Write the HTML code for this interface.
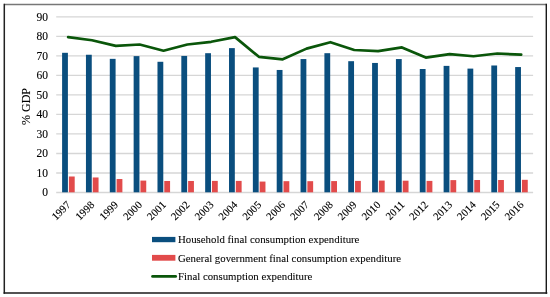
<!DOCTYPE html>
<html><head><meta charset="utf-8"><style>
html,body{margin:0;padding:0;background:#fff;}
body{width:550px;height:297px;overflow:hidden;}
svg{display:block;will-change:transform;font-family:"Liberation Serif",serif;}
text{fill:#000;stroke:#000;stroke-width:0.12px;} .lg{stroke-width:0.08px;} .xl{stroke-width:0.1px;}
</style></head><body>
<svg width="550" height="297" viewBox="0 0 550 297">
<line x1="56.2" y1="192.50" x2="533.1" y2="192.50" stroke="#d6d6d6" stroke-width="1.3"/>
<text x="48.1" y="196.20" text-anchor="end" font-size="11.5">0</text>
<line x1="56.2" y1="172.99" x2="533.1" y2="172.99" stroke="#d6d6d6" stroke-width="1.3"/>
<text x="48.1" y="176.69" text-anchor="end" font-size="11.5">10</text>
<line x1="56.2" y1="153.48" x2="533.1" y2="153.48" stroke="#d6d6d6" stroke-width="1.3"/>
<text x="48.1" y="157.18" text-anchor="end" font-size="11.5">20</text>
<line x1="56.2" y1="133.97" x2="533.1" y2="133.97" stroke="#d6d6d6" stroke-width="1.3"/>
<text x="48.1" y="137.67" text-anchor="end" font-size="11.5">30</text>
<line x1="56.2" y1="114.46" x2="533.1" y2="114.46" stroke="#d6d6d6" stroke-width="1.3"/>
<text x="48.1" y="118.16" text-anchor="end" font-size="11.5">40</text>
<line x1="56.2" y1="94.95" x2="533.1" y2="94.95" stroke="#d6d6d6" stroke-width="1.3"/>
<text x="48.1" y="98.65" text-anchor="end" font-size="11.5">50</text>
<line x1="56.2" y1="75.44" x2="533.1" y2="75.44" stroke="#d6d6d6" stroke-width="1.3"/>
<text x="48.1" y="79.14" text-anchor="end" font-size="11.5">60</text>
<line x1="56.2" y1="55.93" x2="533.1" y2="55.93" stroke="#d6d6d6" stroke-width="1.3"/>
<text x="48.1" y="59.63" text-anchor="end" font-size="11.5">70</text>
<line x1="56.2" y1="36.42" x2="533.1" y2="36.42" stroke="#d6d6d6" stroke-width="1.3"/>
<text x="48.1" y="40.12" text-anchor="end" font-size="11.5">80</text>
<line x1="56.2" y1="16.91" x2="533.1" y2="16.91" stroke="#d6d6d6" stroke-width="1.3"/>
<text x="48.1" y="20.61" text-anchor="end" font-size="11.5">90</text>
<rect x="62.10" y="52.80" width="5.8" height="139.50" fill="#0a4e7e"/>
<rect x="68.90" y="176.50" width="5.8" height="15.80" fill="#e24b4b"/>
<rect x="85.95" y="54.75" width="5.8" height="137.55" fill="#0a4e7e"/>
<rect x="92.75" y="177.47" width="5.8" height="14.83" fill="#e24b4b"/>
<rect x="109.79" y="58.85" width="5.8" height="133.45" fill="#0a4e7e"/>
<rect x="116.59" y="179.03" width="5.8" height="13.27" fill="#e24b4b"/>
<rect x="133.64" y="56.12" width="5.8" height="136.18" fill="#0a4e7e"/>
<rect x="140.44" y="180.59" width="5.8" height="11.71" fill="#e24b4b"/>
<rect x="157.48" y="61.78" width="5.8" height="130.52" fill="#0a4e7e"/>
<rect x="164.28" y="180.98" width="5.8" height="11.32" fill="#e24b4b"/>
<rect x="181.33" y="55.93" width="5.8" height="136.37" fill="#0a4e7e"/>
<rect x="188.12" y="180.98" width="5.8" height="11.32" fill="#e24b4b"/>
<rect x="205.17" y="53.19" width="5.8" height="139.11" fill="#0a4e7e"/>
<rect x="211.97" y="180.89" width="5.8" height="11.41" fill="#e24b4b"/>
<rect x="229.02" y="48.12" width="5.8" height="144.18" fill="#0a4e7e"/>
<rect x="235.82" y="180.89" width="5.8" height="11.41" fill="#e24b4b"/>
<rect x="252.86" y="67.44" width="5.8" height="124.86" fill="#0a4e7e"/>
<rect x="259.66" y="181.57" width="5.8" height="10.73" fill="#e24b4b"/>
<rect x="276.71" y="69.97" width="5.8" height="122.33" fill="#0a4e7e"/>
<rect x="283.50" y="181.18" width="5.8" height="11.12" fill="#e24b4b"/>
<rect x="300.55" y="59.05" width="5.8" height="133.25" fill="#0a4e7e"/>
<rect x="307.35" y="181.18" width="5.8" height="11.12" fill="#e24b4b"/>
<rect x="324.40" y="53.19" width="5.8" height="139.11" fill="#0a4e7e"/>
<rect x="331.20" y="181.08" width="5.8" height="11.22" fill="#e24b4b"/>
<rect x="348.24" y="61.19" width="5.8" height="131.11" fill="#0a4e7e"/>
<rect x="355.04" y="180.89" width="5.8" height="11.41" fill="#e24b4b"/>
<rect x="372.09" y="62.95" width="5.8" height="129.35" fill="#0a4e7e"/>
<rect x="378.88" y="180.59" width="5.8" height="11.71" fill="#e24b4b"/>
<rect x="395.93" y="59.05" width="5.8" height="133.25" fill="#0a4e7e"/>
<rect x="402.73" y="180.69" width="5.8" height="11.61" fill="#e24b4b"/>
<rect x="419.78" y="69.00" width="5.8" height="123.30" fill="#0a4e7e"/>
<rect x="426.58" y="180.89" width="5.8" height="11.41" fill="#e24b4b"/>
<rect x="443.62" y="65.88" width="5.8" height="126.42" fill="#0a4e7e"/>
<rect x="450.42" y="180.11" width="5.8" height="12.19" fill="#e24b4b"/>
<rect x="467.47" y="68.61" width="5.8" height="123.69" fill="#0a4e7e"/>
<rect x="474.27" y="180.01" width="5.8" height="12.29" fill="#e24b4b"/>
<rect x="491.31" y="65.49" width="5.8" height="126.81" fill="#0a4e7e"/>
<rect x="498.11" y="180.01" width="5.8" height="12.29" fill="#e24b4b"/>
<rect x="515.16" y="67.05" width="5.8" height="125.25" fill="#0a4e7e"/>
<rect x="521.96" y="179.81" width="5.8" height="12.49" fill="#e24b4b"/>
<polyline points="68.12,37.11 91.97,40.23 115.81,45.89 139.66,44.52 163.50,50.77 187.35,44.52 211.19,41.79 235.04,37.11 258.88,56.82 282.73,59.35 306.57,48.62 330.42,42.18 354.26,49.99 378.11,51.16 401.95,47.45 425.80,57.60 449.64,54.08 473.49,56.23 497.33,53.50 521.18,54.67" fill="none" stroke="#0a560a" stroke-width="2.7" stroke-linejoin="round" stroke-linecap="round"/>
<text class="xl" x="71.22" y="205.50" text-anchor="end" font-size="10.8" transform="rotate(-45 71.22 205.50)">1997</text>
<text class="xl" x="95.07" y="205.50" text-anchor="end" font-size="10.8" transform="rotate(-45 95.07 205.50)">1998</text>
<text class="xl" x="118.91" y="205.50" text-anchor="end" font-size="10.8" transform="rotate(-45 118.91 205.50)">1999</text>
<text class="xl" x="142.76" y="205.50" text-anchor="end" font-size="10.8" transform="rotate(-45 142.76 205.50)">2000</text>
<text class="xl" x="166.60" y="205.50" text-anchor="end" font-size="10.8" transform="rotate(-45 166.60 205.50)">2001</text>
<text class="xl" x="190.45" y="205.50" text-anchor="end" font-size="10.8" transform="rotate(-45 190.45 205.50)">2002</text>
<text class="xl" x="214.29" y="205.50" text-anchor="end" font-size="10.8" transform="rotate(-45 214.29 205.50)">2003</text>
<text class="xl" x="238.14" y="205.50" text-anchor="end" font-size="10.8" transform="rotate(-45 238.14 205.50)">2004</text>
<text class="xl" x="261.98" y="205.50" text-anchor="end" font-size="10.8" transform="rotate(-45 261.98 205.50)">2005</text>
<text class="xl" x="285.83" y="205.50" text-anchor="end" font-size="10.8" transform="rotate(-45 285.83 205.50)">2006</text>
<text class="xl" x="309.67" y="205.50" text-anchor="end" font-size="10.8" transform="rotate(-45 309.67 205.50)">2007</text>
<text class="xl" x="333.52" y="205.50" text-anchor="end" font-size="10.8" transform="rotate(-45 333.52 205.50)">2008</text>
<text class="xl" x="357.36" y="205.50" text-anchor="end" font-size="10.8" transform="rotate(-45 357.36 205.50)">2009</text>
<text class="xl" x="381.21" y="205.50" text-anchor="end" font-size="10.8" transform="rotate(-45 381.21 205.50)">2010</text>
<text class="xl" x="405.05" y="205.50" text-anchor="end" font-size="10.8" transform="rotate(-45 405.05 205.50)">2011</text>
<text class="xl" x="428.90" y="205.50" text-anchor="end" font-size="10.8" transform="rotate(-45 428.90 205.50)">2012</text>
<text class="xl" x="452.74" y="205.50" text-anchor="end" font-size="10.8" transform="rotate(-45 452.74 205.50)">2013</text>
<text class="xl" x="476.59" y="205.50" text-anchor="end" font-size="10.8" transform="rotate(-45 476.59 205.50)">2014</text>
<text class="xl" x="500.43" y="205.50" text-anchor="end" font-size="10.8" transform="rotate(-45 500.43 205.50)">2015</text>
<text class="xl" x="524.28" y="205.50" text-anchor="end" font-size="10.8" transform="rotate(-45 524.28 205.50)">2016</text>
<text x="0" y="0" text-anchor="middle" font-size="12" transform="translate(29.5 106.5) rotate(-90)">% GDP</text>
<rect x="152" y="236.9" width="23.4" height="5.3" fill="#0a4e7e"/>
<rect x="152" y="254.9" width="23.4" height="5.8" fill="#e24b4b"/>
<line x1="152.6" y1="276.4" x2="175.6" y2="276.4" stroke="#0a560a" stroke-width="2.9" stroke-linecap="round"/>
<text class="lg" x="178.0" y="243.3" font-size="10.8">Household final consumption expenditure</text>
<text class="lg" x="178.0" y="261.7" font-size="10.8">General government final consumption expenditure</text>
<text class="lg" x="178.0" y="280.1" font-size="10.8">Final consumption expenditure</text>
<line x1="4.3" y1="4.5" x2="546.6" y2="4.5" stroke="#777" stroke-width="1.4"/>
<line x1="4.3" y1="3.8" x2="4.3" y2="293.7" stroke="#222" stroke-width="1.5"/>
<line x1="546.3" y1="3.8" x2="546.3" y2="293.7" stroke="#1a1a1a" stroke-width="1.4"/>
<line x1="3.6" y1="292.95" x2="547.3" y2="292.95" stroke="#1a1a1a" stroke-width="1.5"/>
</svg>
</body></html>
